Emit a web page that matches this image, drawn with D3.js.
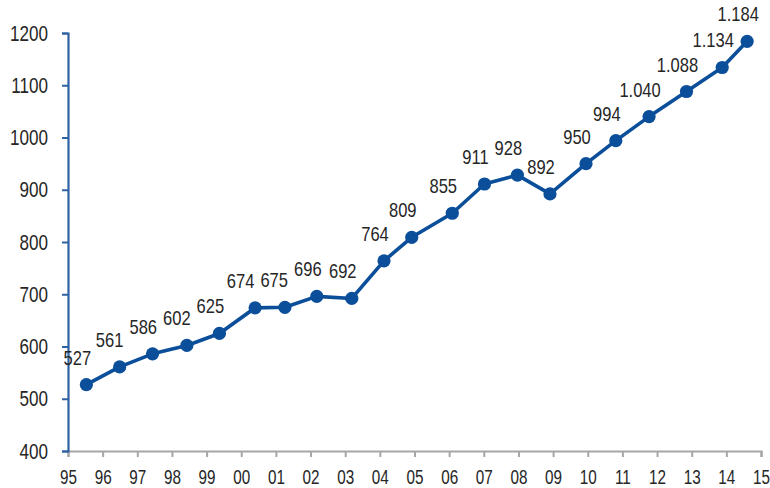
<!DOCTYPE html>
<html>
<head>
<meta charset="utf-8">
<script src="https://cdn.jsdelivr.net/npm/d3@7"></script>
<style>
  html, body { margin: 0; padding: 0; background: #fff; }
  svg text { font-family: "Liberation Sans Narrow", "Arial Narrow", "Liberation Sans", Arial, sans-serif; fill: #262626; }
</style>
</head>
<body>
<svg id="chart" width="770" height="488"></svg>
<script>
// Data (x = position in years on the date axis)
const years = [1995.53, 1996.49, 1997.44, 1998.43, 1999.37, 2000.40, 2001.26, 2002.18, 2003.19, 2004.12,
               2004.92, 2006.09, 2007.02, 2007.97, 2008.91, 2009.95, 2010.81, 2011.77, 2012.85, 2013.88, 2014.60];
const values = [527, 561, 586, 602, 625, 674, 675, 696, 692, 764, 809, 855, 911, 928, 892, 950, 994, 1040, 1088, 1134, 1184];
const valueLabels = ["527", "561", "586", "602", "625", "674", "675", "696", "692", "764", "809", "855", "911", "928",
                     "892", "950", "994", "1.040", "1.088", "1.134", "1.184"];
const xTickValues = [1995, 1996, 1997, 1998, 1999, 2000, 2001, 2002, 2003, 2004, 2005, 2006, 2007, 2008, 2009, 2010,
                     2011, 2012, 2013, 2014, 2015];
const xTickLabels = ["95", "96", "97", "98", "99", "00", "01", "02", "03", "04", "05", "06", "07", "08", "09", "10",
                     "11", "12", "13", "14", "15"];
const yTickValues = [400, 500, 600, 700, 800, 900, 1000, 1100, 1200];

(function () {
const svg = d3.select("#chart");
const mLeft = 68, mRight = 761, mTop = 33, mBottom = 451;

// Digit width per px of font size in the available font
const probe = svg.append("text").attr("font-size", 100).text("0000");
const digitPerPx = probe.node().getComputedTextLength() / 400;
probe.remove();
// horizontal scale to reach a target digit width at a given font size
const squeeze = (fontSize, digitW) => Math.min(1, digitW / (digitPerPx * fontSize));

const yFont = 22, xFont = 21, lblFont = 21;
const sy = squeeze(yFont, 9.5), sxx = squeeze(xFont, 8.5), sl = squeeze(lblFont, 9.2);

const x = d3.scaleLinear().domain([1995, 2015]).range([mLeft, mRight]);
const y = d3.scaleLinear().domain([400, 1200]).range([mBottom, mTop]);

// X axis
const xAxis = svg.append("g")
  .attr("transform", `translate(0,${mBottom})`)
  .call(d3.axisBottom(x).tickValues(xTickValues).tickFormat((d, i) => xTickLabels[i]).tickSize(6).tickPadding(12));
xAxis.select(".domain").attr("stroke", "#a6a6a6").attr("stroke-width", 2.2);
xAxis.selectAll(".tick line").attr("stroke", "#a6a6a6").attr("stroke-width", 2);
xAxis.selectAll(".tick text").attr("font-size", xFont).attr("fill", "#262626")
  .attr("transform", `scale(${sxx},1)`);

// Y axis
const yAxis = svg.append("g")
  .attr("transform", `translate(${mLeft},0)`)
  .call(d3.axisLeft(y).tickValues(yTickValues).tickFormat(d3.format("d")).tickSize(6).tickPadding(14));
yAxis.select(".domain").attr("stroke", "#2f62a3").attr("stroke-width", 2.2);
yAxis.selectAll(".tick line").attr("stroke", "#2f62a3").attr("stroke-width", 2);
yAxis.selectAll(".tick text").attr("font-size", yFont).attr("fill", "#262626")
  .attr("x", -20 / sy)
  .attr("transform", `scale(${sy},1)`);

const pts = years.map((yr, i) => ({ x: yr, v: values[i], label: valueLabels[i] }));

const line = d3.line().x(d => x(d.x)).y(d => y(d.v));
svg.append("path")
  .datum(pts)
  .attr("d", line)
  .attr("fill", "none")
  .attr("stroke", "#0b4e99")
  .attr("stroke-width", 3.6)
  .attr("stroke-linejoin", "round");

svg.append("g").selectAll("circle")
  .data(pts)
  .join("circle")
  .attr("cx", d => x(d.x))
  .attr("cy", d => y(d.v))
  .attr("r", 6.6)
  .attr("fill", "#0b4e99");

// Value labels above-left of each point; shift left when they would collide
const lblG = svg.append("g").selectAll("g")
  .data(pts)
  .join("g");
const lblText = lblG.append("text")
  .attr("transform", `scale(${sl},1)`)
  .attr("text-anchor", "middle")
  .attr("font-size", lblFont)
  .attr("fill", "#262626")
  .text(d => d.label);
lblText.each(function (d) {
  d.w = this.getComputedTextLength() * sl;
  d.cx = x(d.x) - 9;
  d.by = y(d.v) - 20;
});
for (let i = pts.length - 2; i >= 0; i--) {
  const a = pts[i], b = pts[i + 1];
  const vOverlap = Math.abs(a.by - b.by) < 16;
  const gap = (b.cx - b.w / 2) - (a.cx + a.w / 2);
  if (vOverlap && gap < 6) a.cx -= (6 - gap);
}
lblG.attr("transform", d => `translate(${d.cx},${d.by})`);
})();
</script>
</body>
</html>
